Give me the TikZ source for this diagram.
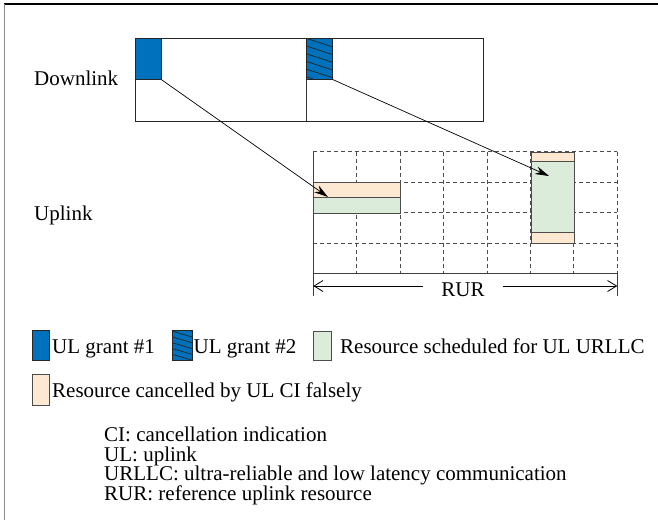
\documentclass[tikz,border=0pt]{standalone}
\usepackage{fontspec}
\setmainfont{Liberation Serif}
\usetikzlibrary{arrows.meta}
\definecolor{grantblue}{RGB}{0,113,188}
\definecolor{urllcgreen}{RGB}{220,236,219}
\definecolor{cancelorange}{RGB}{253,232,210}
\begin{document}
\begin{tikzpicture}[x=1pt,y=-1pt,
  txt/.style={font=\fontsize{21}{24}\selectfont, inner sep=0pt, anchor=base west},
  frameline/.style={draw=black!80, line width=0.9pt},
  gridline/.style={draw=black!70, line width=0.8pt, dash pattern=on 4pt off 3pt},
  solidgrid/.style={draw=black!75, line width=0.9pt},
  cell/.style={draw=black!70, line width=0.9pt, inner sep=0pt, anchor=north west},
  hatchline/.style={draw=black!85, line width=0.7pt},
  ptr/.style={-{Stealth[length=14pt,width=8pt]}, line width=0.7pt},
  dimarrow/.style={{Straight Barb[length=9pt,width=11pt]}-{Straight Barb[length=9pt,width=11pt]}, line width=0.8pt}
]
\useasboundingbox (0,0) rectangle (658,520);

% outer frame (top and left edges)
\draw[black, line width=1.3pt] (4,4) -- (658,4);
\draw[black!45, line width=1.6pt] (4.5,4) -- (4.5,520);

% ---------- downlink ----------
\node[txt] (dllabel) at (34,85) {Downlink};
\node[cell, minimum width=347.5pt, minimum height=83pt, draw=black!85] (dl) at (135,38) {};
\draw[frameline] (306.3,38) -- (306.3,121);
\node[cell, fill=grantblue, draw=black!85, minimum width=25.5pt, minimum height=40.7pt] (g1) at (135,38) {};
\node[cell, fill=grantblue, draw=black!85, minimum width=25.7pt, minimum height=40.7pt] (g2) at (306.3,38) {};
\begin{scope}
  \clip (306.3,38) rectangle (332,78.7);
  \foreach \k in {-2,...,6}
    \draw[hatchline] (306.3,{38.3+7.7*\k}) -- ++(26,8.5);
\end{scope}
\draw[black!85, line width=0.9pt] (g2.north west) rectangle (g2.south east);

% ---------- uplink resource grid ----------
\node[txt] (ullabel) at (34,220) {Uplink};
\foreach \i in {1,...,6}
  \draw[gridline] ({313.3+43.43*\i},151.7) -- ({313.3+43.43*\i},273.3);
\foreach \j in {1,2,3}
  \draw[gridline] (313.3,{151.7+30.4*\j}) -- (617.3,{151.7+30.4*\j});
\draw[gridline] (313.3,151.7) -- (617.3,151.7);
\draw[gridline] (617.3,151.7) -- (617.3,273.3);
\draw[solidgrid] (313.3,151.7) -- (313.3,296);
\draw[solidgrid] (313.3,273.3) -- (617.3,273.3);
\draw[solidgrid] (617.3,273.3) -- (617.3,296);

% scheduled / cancelled resources
\node[cell, fill=cancelorange, minimum width=86.9pt, minimum height=15.2pt] (c1) at (313.3,182.1) {};
\node[cell, fill=urllcgreen, minimum width=86.9pt, minimum height=15.2pt] (s1) at (313.3,197.3) {};
\node[cell, fill=cancelorange, minimum width=43.4pt, minimum height=9pt] (c2a) at (530.5,151.7) {};
\node[cell, fill=urllcgreen, minimum width=43.4pt, minimum height=71pt] (s2) at (530.5,160.7) {};
\node[cell, fill=cancelorange, minimum width=43.4pt, minimum height=11.2pt] (c2b) at (530.5,231.7) {};

% grant pointers
\coordinate (t1) at (328,197);
\coordinate (t2) at (549,176);
\draw[ptr] (g1.south east) -- (t1);
\draw[ptr] (g2.south east) -- (t2);

% RUR span
\coordinate (rl) at (313.3,286);
\coordinate (rr) at (617.3,286);
\draw[dimarrow] (rl) -- (rr);
\node[font=\fontsize{21}{24}\selectfont, fill=white, inner xsep=18pt, inner ysep=1pt] (rur) at (463,290) {RUR};

% ---------- legend ----------
\node[cell, fill=grantblue, draw=black!85, minimum width=17pt, minimum height=30pt] (lg1) at (32,330) {};
\node[txt] (lt1) at (52,353) {UL grant \#1};
\node[cell, fill=grantblue, draw=black!85, minimum width=20pt, minimum height=30pt] (lg2) at (172,330) {};
\begin{scope}
  \clip (172,330) rectangle (192,360);
  \foreach \k in {-2,...,6}
    \draw[hatchline] (172,{331+5.8*\k}) -- ++(20,6);
\end{scope}
\draw[black!85, line width=0.9pt] (lg2.north west) rectangle (lg2.south east);
\node[txt] (lt2) at (193.5,353) {UL grant \#2};
\node[cell, fill=urllcgreen, minimum width=18pt, minimum height=29pt] (lg3) at (313,331) {};
\node[txt] (lt3) at (340,353) {Resource scheduled for UL URLLC};
\node[cell, fill=cancelorange, minimum width=16.5pt, minimum height=31pt] (lg4) at (32,374) {};
\node[txt] (lt4) at (52,397) {Resource cancelled by UL CI falsely};

% ---------- abbreviations ----------
\node[txt] (n1) at (104,441.5) {CI: cancellation indication};
\node[txt] (n2) at (104,461) {UL: uplink};
\node[txt] (n3) at (104,480.5) {URLLC: ultra-reliable and low latency communication};
\node[txt] (n4) at (104,500) {RUR: reference uplink resource};
\end{tikzpicture}
\end{document}
